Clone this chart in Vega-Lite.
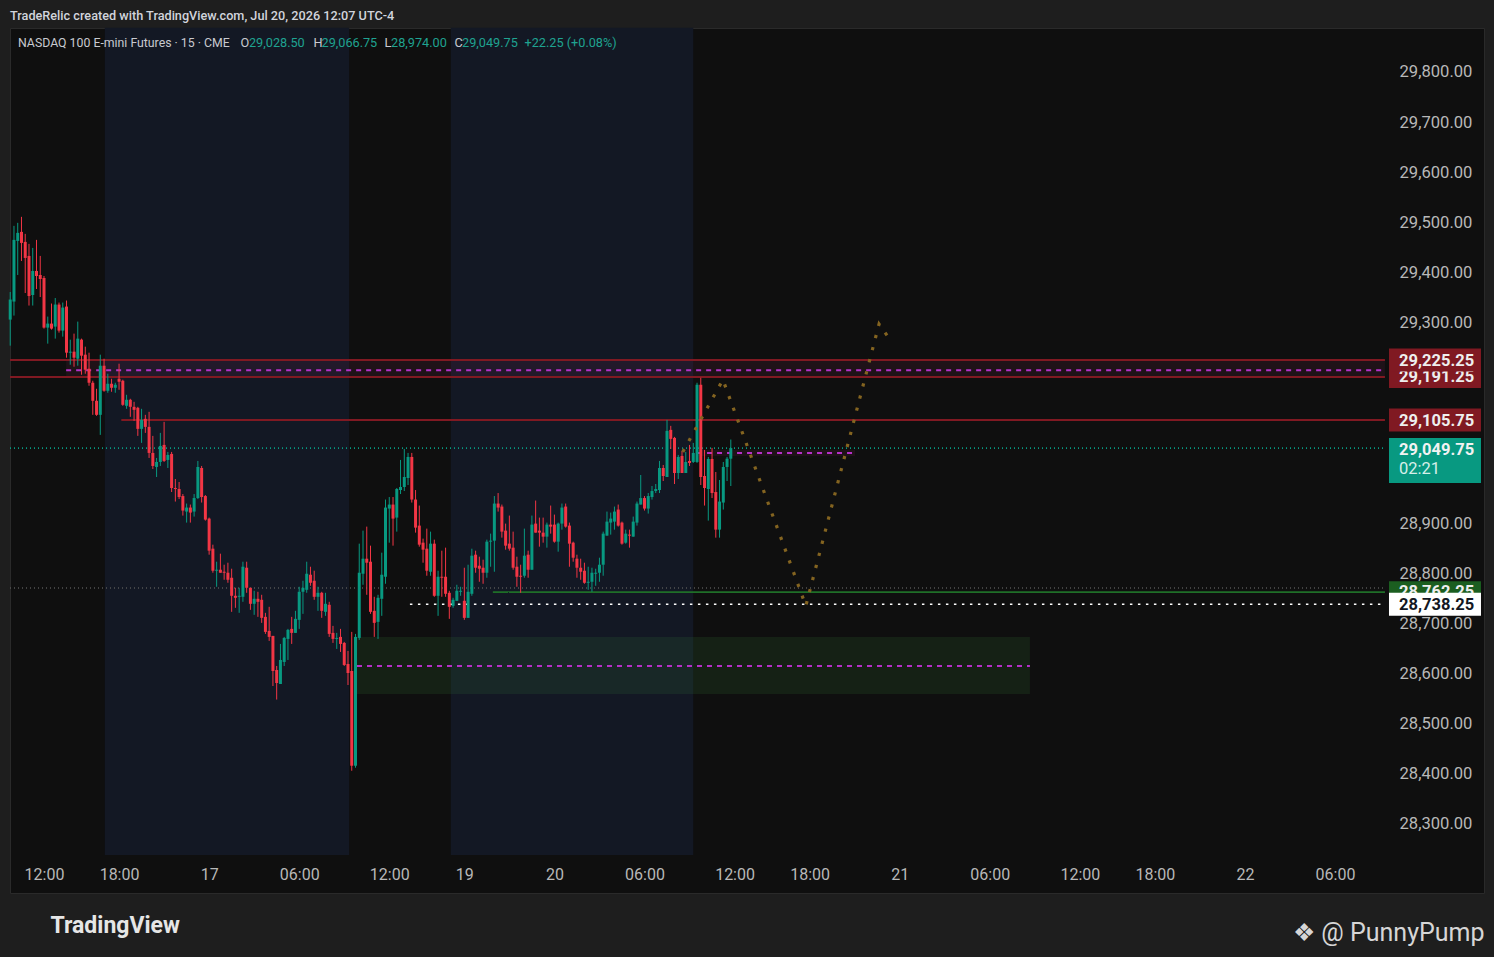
{
  "$schema": "https://vega.github.io/schema/vega-lite/v6.json",
  "width": 1474,
  "height": 865,
  "autosize": {"type": "none"},
  "padding": {"left": 10, "top": 28, "right": 10, "bottom": 64},
  "background": "#1e1e1e",
  "title": {
    "text": "TradeRelic created with TradingView.com, Jul 20, 2026 12:07 UTC-4",
    "anchor": "start",
    "frame": "group",
    "offset": 5,
    "font": "Roboto",
    "fontSize": 12.7,
    "fontWeight": 500,
    "color": "#d1d4dc"
  },
  "data": {"values": [{}]},
  "datasets": {
    "bands": [
      {"a": 16.2, "b": 81.3},
      {"a": 108.4, "b": 173.0}
    ],
    "zones": [
      {"a": 5.9, "b": 357.3, "p1": 29191.25, "p2": 29225.25, "k": "r"},
      {"a": 174, "b": 216.1, "p1": 29034, "p2": 29046, "k": "r"},
      {"a": 83.4, "b": 262.7, "p1": 28559, "p2": 28673, "k": "g"}
    ],
    "hlines": [
      {"k": "red", "p": 29225.25, "a": -9.06, "b": 357.3},
      {"k": "red", "p": 29191.25, "a": -9.06, "b": 357.3},
      {"k": "red", "p": 29105.75, "a": 20.6, "b": 357.3},
      {"k": "mag", "p": 29205, "a": 5.9, "b": 357.3},
      {"k": "teal", "p": 29049.75, "a": -9.06, "b": 357.3},
      {"k": "gray", "p": 28770.5, "a": -9.06, "b": 357.3},
      {"k": "green", "p": 28762.25, "a": 119.6, "b": 357.3},
      {"k": "white", "p": 28738.25, "a": 97.5, "b": 357.3},
      {"k": "mag", "p": 28615, "a": 83.4, "b": 262.7},
      {"k": "mag", "p": 29040, "a": 174, "b": 216.1}
    ],
    "proj": [
      {"i": 170.2, "p": 29042},
      {"i": 180.9, "p": 29186},
      {"i": 203.0, "p": 28735},
      {"i": 222.5, "p": 29297},
      {"i": 225.8, "p": 29262}
    ],
    "tags": [
      {"z": 1, "k": "r", "p": 29191.25, "t": "29,191.25"},
      {"z": 1, "k": "g", "p": 28762.25, "t": "28,762.25"},
      {"z": 2, "k": "r", "p": 29225.25, "t": "29,225.25"},
      {"z": 2, "k": "r", "p": 29105.75, "t": "29,105.75"},
      {"z": 2, "k": "w", "p": 28738.25, "t": "28,738.25"}
    ],
    "candles": [
      {"i": -9, "o": 29306, "h": 29361, "l": 29254, "c": 29346},
      {"i": -8, "o": 29342, "h": 29493, "l": 29314, "c": 29465},
      {"i": -7, "o": 29463, "h": 29499, "l": 29395, "c": 29479},
      {"i": -6, "o": 29481, "h": 29511, "l": 29423, "c": 29459},
      {"i": -5, "o": 29461, "h": 29477, "l": 29359, "c": 29429},
      {"i": -4, "o": 29433, "h": 29457, "l": 29334, "c": 29353},
      {"i": -3, "o": 29355, "h": 29449, "l": 29334, "c": 29403},
      {"i": -2, "o": 29403, "h": 29465, "l": 29367, "c": 29393},
      {"i": -1, "o": 29395, "h": 29433, "l": 29351, "c": 29387},
      {"i": 0, "o": 29389, "h": 29393, "l": 29288, "c": 29290},
      {"i": 1, "o": 29290, "h": 29312, "l": 29258, "c": 29298},
      {"i": 2, "o": 29298, "h": 29338, "l": 29286, "c": 29288},
      {"i": 3, "o": 29292, "h": 29349, "l": 29268, "c": 29336},
      {"i": 4, "o": 29336, "h": 29340, "l": 29280, "c": 29284},
      {"i": 5, "o": 29284, "h": 29340, "l": 29272, "c": 29330},
      {"i": 6, "o": 29332, "h": 29344, "l": 29230, "c": 29240},
      {"i": 7, "o": 29240, "h": 29266, "l": 29216, "c": 29242},
      {"i": 8, "o": 29242, "h": 29278, "l": 29212, "c": 29230},
      {"i": 9, "o": 29228, "h": 29302, "l": 29214, "c": 29268},
      {"i": 10, "o": 29266, "h": 29268, "l": 29196, "c": 29234},
      {"i": 11, "o": 29236, "h": 29252, "l": 29198, "c": 29206},
      {"i": 12, "o": 29208, "h": 29240, "l": 29174, "c": 29180},
      {"i": 13, "o": 29180, "h": 29184, "l": 29116, "c": 29144},
      {"i": 14, "o": 29144, "h": 29168, "l": 29114, "c": 29116},
      {"i": 15, "o": 29116, "h": 29236, "l": 29076, "c": 29214},
      {"i": 16, "o": 29214, "h": 29228, "l": 29162, "c": 29164},
      {"i": 17, "o": 29164, "h": 29198, "l": 29160, "c": 29178},
      {"i": 18, "o": 29178, "h": 29188, "l": 29162, "c": 29170},
      {"i": 19, "o": 29170, "h": 29180, "l": 29160, "c": 29176},
      {"i": 20, "o": 29188, "h": 29218, "l": 29166, "c": 29182},
      {"i": 21, "o": 29184, "h": 29186, "l": 29134, "c": 29136},
      {"i": 22, "o": 29134, "h": 29156, "l": 29128, "c": 29146},
      {"i": 23, "o": 29146, "h": 29148, "l": 29112, "c": 29132},
      {"i": 24, "o": 29132, "h": 29142, "l": 29104, "c": 29126},
      {"i": 25, "o": 29130, "h": 29132, "l": 29074, "c": 29088},
      {"i": 26, "o": 29088, "h": 29128, "l": 29060, "c": 29106},
      {"i": 27, "o": 29108, "h": 29116, "l": 29080, "c": 29092},
      {"i": 28, "o": 29092, "h": 29122, "l": 29030, "c": 29040},
      {"i": 29, "o": 29040, "h": 29074, "l": 29008, "c": 29014},
      {"i": 30, "o": 29012, "h": 29030, "l": 28992, "c": 29022},
      {"i": 31, "o": 29022, "h": 29080, "l": 29014, "c": 29054},
      {"i": 32, "o": 29056, "h": 29102, "l": 29022, "c": 29024},
      {"i": 33, "o": 29026, "h": 29042, "l": 29010, "c": 29036},
      {"i": 34, "o": 29038, "h": 29042, "l": 28962, "c": 28970},
      {"i": 35, "o": 28970, "h": 28988, "l": 28943, "c": 28968},
      {"i": 36, "o": 28968, "h": 28982, "l": 28948, "c": 28952},
      {"i": 37, "o": 28954, "h": 28958, "l": 28915, "c": 28925},
      {"i": 38, "o": 28923, "h": 28939, "l": 28901, "c": 28931},
      {"i": 39, "o": 28931, "h": 28937, "l": 28901, "c": 28921},
      {"i": 40, "o": 28923, "h": 28958, "l": 28913, "c": 28950},
      {"i": 41, "o": 28950, "h": 29024, "l": 28948, "c": 29012},
      {"i": 42, "o": 29010, "h": 29014, "l": 28941, "c": 28952},
      {"i": 43, "o": 28954, "h": 28956, "l": 28905, "c": 28907},
      {"i": 44, "o": 28909, "h": 28911, "l": 28837, "c": 28845},
      {"i": 45, "o": 28849, "h": 28857, "l": 28801, "c": 28805},
      {"i": 46, "o": 28805, "h": 28823, "l": 28773, "c": 28807},
      {"i": 47, "o": 28807, "h": 28839, "l": 28801, "c": 28801},
      {"i": 48, "o": 28803, "h": 28817, "l": 28787, "c": 28801},
      {"i": 49, "o": 28801, "h": 28821, "l": 28781, "c": 28787},
      {"i": 50, "o": 28791, "h": 28809, "l": 28723, "c": 28755},
      {"i": 51, "o": 28755, "h": 28771, "l": 28731, "c": 28751},
      {"i": 52, "o": 28753, "h": 28771, "l": 28721, "c": 28755},
      {"i": 53, "o": 28753, "h": 28823, "l": 28743, "c": 28813},
      {"i": 54, "o": 28811, "h": 28823, "l": 28761, "c": 28771},
      {"i": 55, "o": 28771, "h": 28771, "l": 28727, "c": 28739},
      {"i": 56, "o": 28739, "h": 28765, "l": 28717, "c": 28749},
      {"i": 57, "o": 28749, "h": 28763, "l": 28713, "c": 28743},
      {"i": 58, "o": 28747, "h": 28757, "l": 28701, "c": 28711},
      {"i": 59, "o": 28713, "h": 28721, "l": 28679, "c": 28683},
      {"i": 60, "o": 28685, "h": 28733, "l": 28665, "c": 28673},
      {"i": 61, "o": 28675, "h": 28675, "l": 28575, "c": 28605},
      {"i": 62, "o": 28607, "h": 28615, "l": 28548, "c": 28581},
      {"i": 63, "o": 28579, "h": 28659, "l": 28579, "c": 28627},
      {"i": 64, "o": 28623, "h": 28673, "l": 28615, "c": 28671},
      {"i": 65, "o": 28669, "h": 28689, "l": 28627, "c": 28687},
      {"i": 66, "o": 28689, "h": 28713, "l": 28659, "c": 28681},
      {"i": 67, "o": 28681, "h": 28725, "l": 28681, "c": 28709},
      {"i": 68, "o": 28707, "h": 28773, "l": 28689, "c": 28763},
      {"i": 69, "o": 28763, "h": 28785, "l": 28719, "c": 28771},
      {"i": 70, "o": 28767, "h": 28823, "l": 28761, "c": 28799},
      {"i": 71, "o": 28797, "h": 28813, "l": 28775, "c": 28781},
      {"i": 72, "o": 28785, "h": 28805, "l": 28747, "c": 28753},
      {"i": 73, "o": 28753, "h": 28773, "l": 28725, "c": 28761},
      {"i": 74, "o": 28761, "h": 28763, "l": 28711, "c": 28725},
      {"i": 75, "o": 28723, "h": 28761, "l": 28715, "c": 28739},
      {"i": 76, "o": 28737, "h": 28743, "l": 28673, "c": 28679},
      {"i": 77, "o": 28681, "h": 28695, "l": 28661, "c": 28669},
      {"i": 78, "o": 28669, "h": 28681, "l": 28649, "c": 28671},
      {"i": 79, "o": 28673, "h": 28689, "l": 28643, "c": 28659},
      {"i": 80, "o": 28661, "h": 28663, "l": 28615, "c": 28617},
      {"i": 81, "o": 28619, "h": 28645, "l": 28577, "c": 28601},
      {"i": 82, "o": 28605, "h": 28683, "l": 28406, "c": 28416},
      {"i": 83, "o": 28416, "h": 28679, "l": 28412, "c": 28673},
      {"i": 84, "o": 28671, "h": 28859, "l": 28667, "c": 28801},
      {"i": 85, "o": 28799, "h": 28885, "l": 28777, "c": 28829},
      {"i": 86, "o": 28829, "h": 28893, "l": 28757, "c": 28821},
      {"i": 87, "o": 28823, "h": 28855, "l": 28719, "c": 28723},
      {"i": 88, "o": 28725, "h": 28753, "l": 28673, "c": 28701},
      {"i": 89, "o": 28703, "h": 28757, "l": 28669, "c": 28751},
      {"i": 90, "o": 28749, "h": 28841, "l": 28715, "c": 28797},
      {"i": 91, "o": 28793, "h": 28947, "l": 28779, "c": 28931},
      {"i": 92, "o": 28929, "h": 28952, "l": 28861, "c": 28937},
      {"i": 93, "o": 28937, "h": 28952, "l": 28855, "c": 28909},
      {"i": 94, "o": 28911, "h": 28970, "l": 28883, "c": 28968},
      {"i": 95, "o": 28966, "h": 29026, "l": 28958, "c": 28972},
      {"i": 96, "o": 28972, "h": 29048, "l": 28964, "c": 28992},
      {"i": 97, "o": 28990, "h": 29040, "l": 28976, "c": 29032},
      {"i": 98, "o": 29032, "h": 29040, "l": 28941, "c": 28947},
      {"i": 99, "o": 28947, "h": 28966, "l": 28881, "c": 28891},
      {"i": 100, "o": 28895, "h": 28935, "l": 28853, "c": 28857},
      {"i": 101, "o": 28861, "h": 28869, "l": 28821, "c": 28847},
      {"i": 102, "o": 28849, "h": 28889, "l": 28795, "c": 28805},
      {"i": 103, "o": 28803, "h": 28883, "l": 28795, "c": 28859},
      {"i": 104, "o": 28859, "h": 28867, "l": 28753, "c": 28755},
      {"i": 105, "o": 28755, "h": 28805, "l": 28715, "c": 28793},
      {"i": 106, "o": 28793, "h": 28845, "l": 28753, "c": 28791},
      {"i": 107, "o": 28793, "h": 28851, "l": 28753, "c": 28759},
      {"i": 108, "o": 28761, "h": 28765, "l": 28709, "c": 28733},
      {"i": 109, "o": 28735, "h": 28751, "l": 28731, "c": 28747},
      {"i": 110, "o": 28745, "h": 28777, "l": 28745, "c": 28765},
      {"i": 111, "o": 28763, "h": 28773, "l": 28755, "c": 28765},
      {"i": 112, "o": 28745, "h": 28811, "l": 28707, "c": 28711},
      {"i": 113, "o": 28711, "h": 28817, "l": 28711, "c": 28763},
      {"i": 114, "o": 28759, "h": 28849, "l": 28755, "c": 28835},
      {"i": 115, "o": 28837, "h": 28845, "l": 28801, "c": 28811},
      {"i": 116, "o": 28815, "h": 28833, "l": 28783, "c": 28809},
      {"i": 117, "o": 28811, "h": 28827, "l": 28779, "c": 28801},
      {"i": 118, "o": 28801, "h": 28867, "l": 28791, "c": 28863},
      {"i": 119, "o": 28863, "h": 28879, "l": 28813, "c": 28865},
      {"i": 120, "o": 28865, "h": 28954, "l": 28803, "c": 28939},
      {"i": 121, "o": 28939, "h": 28960, "l": 28923, "c": 28931},
      {"i": 122, "o": 28933, "h": 28937, "l": 28871, "c": 28883},
      {"i": 123, "o": 28885, "h": 28899, "l": 28847, "c": 28855},
      {"i": 124, "o": 28859, "h": 28915, "l": 28845, "c": 28849},
      {"i": 125, "o": 28851, "h": 28883, "l": 28807, "c": 28811},
      {"i": 126, "o": 28813, "h": 28833, "l": 28773, "c": 28793},
      {"i": 127, "o": 28795, "h": 28817, "l": 28761, "c": 28793},
      {"i": 128, "o": 28795, "h": 28889, "l": 28791, "c": 28835},
      {"i": 129, "o": 28837, "h": 28845, "l": 28791, "c": 28807},
      {"i": 130, "o": 28807, "h": 28915, "l": 28807, "c": 28897},
      {"i": 131, "o": 28899, "h": 28945, "l": 28881, "c": 28881},
      {"i": 132, "o": 28885, "h": 28911, "l": 28853, "c": 28881},
      {"i": 133, "o": 28881, "h": 28911, "l": 28861, "c": 28873},
      {"i": 134, "o": 28873, "h": 28901, "l": 28851, "c": 28897},
      {"i": 135, "o": 28897, "h": 28935, "l": 28879, "c": 28893},
      {"i": 136, "o": 28897, "h": 28917, "l": 28861, "c": 28863},
      {"i": 137, "o": 28863, "h": 28901, "l": 28843, "c": 28899},
      {"i": 138, "o": 28899, "h": 28939, "l": 28887, "c": 28931},
      {"i": 139, "o": 28933, "h": 28939, "l": 28891, "c": 28893},
      {"i": 140, "o": 28895, "h": 28901, "l": 28813, "c": 28859},
      {"i": 141, "o": 28861, "h": 28863, "l": 28823, "c": 28831},
      {"i": 142, "o": 28829, "h": 28837, "l": 28791, "c": 28811},
      {"i": 143, "o": 28811, "h": 28829, "l": 28787, "c": 28803},
      {"i": 144, "o": 28805, "h": 28821, "l": 28779, "c": 28781},
      {"i": 145, "o": 28781, "h": 28813, "l": 28767, "c": 28783},
      {"i": 146, "o": 28783, "h": 28811, "l": 28763, "c": 28801},
      {"i": 147, "o": 28799, "h": 28809, "l": 28775, "c": 28801},
      {"i": 148, "o": 28801, "h": 28831, "l": 28783, "c": 28817},
      {"i": 149, "o": 28817, "h": 28883, "l": 28795, "c": 28879},
      {"i": 150, "o": 28875, "h": 28923, "l": 28875, "c": 28903},
      {"i": 151, "o": 28901, "h": 28921, "l": 28877, "c": 28909},
      {"i": 152, "o": 28903, "h": 28933, "l": 28887, "c": 28923},
      {"i": 153, "o": 28927, "h": 28937, "l": 28893, "c": 28895},
      {"i": 154, "o": 28901, "h": 28903, "l": 28857, "c": 28859},
      {"i": 155, "o": 28861, "h": 28887, "l": 28859, "c": 28879},
      {"i": 156, "o": 28877, "h": 28887, "l": 28851, "c": 28875},
      {"i": 157, "o": 28873, "h": 28913, "l": 28873, "c": 28903},
      {"i": 158, "o": 28901, "h": 28943, "l": 28895, "c": 28939},
      {"i": 159, "o": 28937, "h": 28996, "l": 28937, "c": 28950},
      {"i": 160, "o": 28950, "h": 28954, "l": 28925, "c": 28929},
      {"i": 161, "o": 28929, "h": 28960, "l": 28919, "c": 28954},
      {"i": 162, "o": 28952, "h": 28974, "l": 28947, "c": 28964},
      {"i": 163, "o": 28964, "h": 28978, "l": 28960, "c": 28968},
      {"i": 164, "o": 28966, "h": 29024, "l": 28960, "c": 29010},
      {"i": 165, "o": 29010, "h": 29016, "l": 28984, "c": 28994},
      {"i": 166, "o": 28992, "h": 29106, "l": 28992, "c": 29084},
      {"i": 167, "o": 29086, "h": 29094, "l": 29048, "c": 29068},
      {"i": 168, "o": 29070, "h": 29072, "l": 28978, "c": 29000},
      {"i": 169, "o": 29000, "h": 29036, "l": 28988, "c": 29032},
      {"i": 170, "o": 29034, "h": 29044, "l": 29000, "c": 29000},
      {"i": 171, "o": 29000, "h": 29042, "l": 29000, "c": 29022},
      {"i": 172, "o": 29024, "h": 29056, "l": 29014, "c": 29020},
      {"i": 173, "o": 29022, "h": 29060, "l": 29020, "c": 29040},
      {"i": 174, "o": 29022, "h": 29180, "l": 29020, "c": 29176},
      {"i": 175, "o": 29176, "h": 29190, "l": 28976, "c": 28992},
      {"i": 176, "o": 28994, "h": 29046, "l": 28935, "c": 28970},
      {"i": 177, "o": 28968, "h": 29032, "l": 28905, "c": 29028},
      {"i": 178, "o": 29028, "h": 29050, "l": 28950, "c": 28960},
      {"i": 179, "o": 28962, "h": 29002, "l": 28871, "c": 28887},
      {"i": 180, "o": 28887, "h": 28986, "l": 28871, "c": 28943},
      {"i": 181, "o": 28941, "h": 29022, "l": 28927, "c": 29012},
      {"i": 182, "o": 29012, "h": 29032, "l": 28984, "c": 29028.5},
      {"i": 183, "o": 29028.5, "h": 29066.75, "l": 28974, "c": 29049.75}
    ]
  },
  "layer": [
    {
      "data": {"name": "bands"},
      "mark": {"type": "rect", "color": "#131824"},
      "encoding": {
        "x": {
          "field": "a", "type": "quantitative",
          "scale": {"domain": [-9.059, 383.69], "nice": false, "zero": false, "padding": 0},
          "axis": {
            "orient": "bottom", "offset": -38,
            "values": [0, 20, 44, 68, 92, 112, 136, 160, 184, 204, 228, 252, 276, 296, 320, 344],
            "labelExpr": "['12:00','18:00','17','06:00','12:00','19','20','06:00','12:00','18:00','21','06:00','12:00','18:00','22','06:00'][indexof([0,20,44,68,92,112,136,160,184,204,228,252,276,296,320,344], datum.value)]",
            "labelPadding": 19, "labelBaseline": "middle",
            "title": "❖ @ PunnyPump",
            "titleX": 1474, "titleY": 77, "titleAlign": "right", "titleBaseline": "middle",
            "titleFontSize": 25, "titleFontWeight": "normal", "titleColor": "#d6d6d6"
          }
        },
        "x2": {"field": "b"},
        "y": {
          "datum": 28238, "type": "quantitative",
          "scale": {"domain": [28162.1, 29887.7], "nice": false, "zero": false, "padding": 0},
          "axis": {
            "orient": "right", "offset": -99,
            "values": [28300, 28400, 28500, 28600, 28700, 28800, 28900, 29000, 29100, 29200, 29300, 29400, 29500, 29600, 29700, 29800],
            "labelExpr": "format(datum.value, ',.2f')",
            "labelAlign": "left", "labelBaseline": "middle", "labelPadding": 14, "labelFontSize": 16.6,
            "title": "TradingView",
            "titleAngle": 0, "titleX": -1335, "titleY": 897, "titleAlign": "left", "titleBaseline": "middle",
            "titleFontSize": 23, "titleFontWeight": "bold", "titleColor": "#e6e6e6"
          }
        },
        "y2": {"datum": 29888}
      }
    },
    {
      "data": {"name": "zones"},
      "mark": {"type": "rect", "opacity": 0.13},
      "encoding": {
        "x": {"field": "a", "type": "quantitative"},
        "x2": {"field": "b"},
        "y": {"field": "p1", "type": "quantitative"},
        "y2": {"field": "p2"},
        "color": {"condition": {"test": "datum.k == 'g'", "value": "#3a9a40"}, "value": "#8e2a55"}
      }
    },
    {
      "data": {"name": "hlines"},
      "mark": {"type": "rule"},
      "encoding": {
        "x": {"field": "a", "type": "quantitative"},
        "x2": {"field": "b"},
        "y": {"field": "p", "type": "quantitative"},
        "color": {
          "field": "k", "type": "nominal", "legend": null,
          "scale": {"domain": ["red", "mag", "teal", "gray", "green", "white"], "range": ["#801922", "#b530c8", "#089981", "#555555", "#1f6f28", "#ffffff"]}
        },
        "strokeDash": {
          "field": "k", "type": "nominal", "legend": null,
          "scale": {"domain": ["red", "mag", "teal", "gray", "green", "white"], "range": [[1, 0], [5, 5], [1, 3], [1, 3], [1, 0], [2.5, 5.5]]}
        },
        "strokeWidth": {
          "field": "k", "type": "nominal", "legend": null,
          "scale": {"domain": ["red", "mag", "teal", "gray", "green", "white"], "range": [2, 1.5, 1, 1, 2, 2.5]}
        }
      }
    },
    {
      "data": {"name": "candles"},
      "mark": {"type": "rule", "strokeWidth": 1},
      "encoding": {
        "x": {"field": "i", "type": "quantitative"},
        "y": {"field": "l", "type": "quantitative"},
        "y2": {"field": "h"},
        "color": {"condition": {"test": "datum.c >= datum.o", "value": "#089981"}, "value": "#f23645"}
      }
    },
    {
      "data": {"name": "candles"},
      "mark": {"type": "bar", "size": 3, "opacity": 1},
      "encoding": {
        "x": {"field": "i", "type": "quantitative"},
        "y": {"field": "o", "type": "quantitative"},
        "y2": {"field": "c"},
        "color": {"condition": {"test": "datum.c >= datum.o", "value": "#089981"}, "value": "#f23645"}
      }
    },
    {
      "data": {"name": "proj"},
      "mark": {"type": "line", "color": "#846420", "strokeWidth": 3.2, "strokeDash": [3.2, 9.3], "strokeCap": "butt"},
      "encoding": {
        "x": {"field": "i", "type": "quantitative"},
        "y": {"field": "p", "type": "quantitative"}
      }
    },
    {
      "data": {"name": "tags"},
      "transform": [{"filter": "datum.z == 1"}],
      "layer": [
        {
          "mark": {"type": "tick", "orient": "horizontal", "size": 92, "thickness": 22, "opacity": 1},
          "encoding": {
            "x": {"datum": 370.63},
            "y": {"field": "p", "type": "quantitative"},
            "color": {"condition": [{"test": "datum.k == 'g'", "value": "#1b5e20"}, {"test": "datum.k == 'w'", "value": "#ffffff"}], "value": "#801922"}
          }
        },
        {
          "mark": {"type": "text", "align": "left", "baseline": "middle", "font": "Roboto", "fontSize": 16.5, "fontWeight": "bold", "yOffset": 0},
          "encoding": {
            "x": {"datum": 361.05},
            "y": {"field": "p", "type": "quantitative"},
            "text": {"field": "t"},
            "color": {"condition": {"test": "datum.k == 'w'", "value": "#131722"}, "value": "#eeeeee"}
          }
        }
      ]
    },
    {
      "data": {"name": "tags"},
      "transform": [{"filter": "datum.z == 2"}],
      "layer": [
        {
          "mark": {"type": "tick", "orient": "horizontal", "size": 92, "thickness": 23, "opacity": 1},
          "encoding": {
            "x": {"datum": 370.63},
            "y": {"field": "p", "type": "quantitative"},
            "color": {"condition": [{"test": "datum.k == 'g'", "value": "#1b5e20"}, {"test": "datum.k == 'w'", "value": "#ffffff"}], "value": "#801922"}
          }
        },
        {
          "mark": {"type": "text", "align": "left", "baseline": "middle", "font": "Roboto", "fontSize": 16.5, "fontWeight": "bold", "yOffset": 1},
          "encoding": {
            "x": {"datum": 361.05},
            "y": {"field": "p", "type": "quantitative"},
            "text": {"field": "t"},
            "color": {"condition": {"test": "datum.k == 'w'", "value": "#131722"}, "value": "#eeeeee"}
          }
        }
      ]
    },
    {
      "mark": {"type": "tick", "orient": "horizontal", "size": 92, "thickness": 45, "opacity": 1, "color": "#089981", "yOffset": 12.5},
      "encoding": {
        "x": {"datum": 370.63},
        "y": {"datum": 29049.75}
      }
    },
    {
      "mark": {"type": "text", "text": "29,049.75", "align": "left", "baseline": "middle", "font": "Roboto", "fontSize": 16.5, "fontWeight": "bold", "color": "#f2f2f2", "yOffset": 2},
      "encoding": {
        "x": {"datum": 361.05},
        "y": {"datum": 29049.75}
      }
    },
    {
      "mark": {"type": "text", "text": "02:21", "align": "left", "baseline": "middle", "font": "Roboto", "fontSize": 16.5, "color": "#d6efe9", "yOffset": 21},
      "encoding": {
        "x": {"datum": 361.05},
        "y": {"datum": 29049.75}
      }
    },
    {
      "mark": {"type": "text", "text": "NASDAQ 100 E-mini Futures · 15 · CME", "align": "left", "baseline": "middle", "font": "Roboto", "fontSize": 12.3, "color": "#c8cad0"},
      "encoding": {"x": {"datum": -6.93}, "y": {"datum": 29857.8}}
    },
    {
      "mark": {"type": "text", "text": "O", "align": "left", "baseline": "middle", "font": "Roboto", "fontSize": 12.7, "color": "#c8cad0"},
      "encoding": {"x": {"datum": 52.36}, "y": {"datum": 29857.8}}
    },
    {
      "mark": {"type": "text", "text": "29,028.50", "align": "left", "baseline": "middle", "font": "Roboto", "fontSize": 12.7, "color": "#1fa391"},
      "encoding": {"x": {"datum": 54.62}, "y": {"datum": 29857.8}}
    },
    {
      "mark": {"type": "text", "text": "H", "align": "left", "baseline": "middle", "font": "Roboto", "fontSize": 12.7, "color": "#c8cad0"},
      "encoding": {"x": {"datum": 71.81}, "y": {"datum": 29857.8}}
    },
    {
      "mark": {"type": "text", "text": "29,066.75", "align": "left", "baseline": "middle", "font": "Roboto", "fontSize": 12.7, "color": "#1fa391"},
      "encoding": {"x": {"datum": 73.94}, "y": {"datum": 29857.8}}
    },
    {
      "mark": {"type": "text", "text": "L", "align": "left", "baseline": "middle", "font": "Roboto", "fontSize": 12.7, "color": "#c8cad0"},
      "encoding": {"x": {"datum": 90.73}, "y": {"datum": 29857.8}}
    },
    {
      "mark": {"type": "text", "text": "28,974.00", "align": "left", "baseline": "middle", "font": "Roboto", "fontSize": 12.7, "color": "#1fa391"},
      "encoding": {"x": {"datum": 92.46}, "y": {"datum": 29857.8}}
    },
    {
      "mark": {"type": "text", "text": "C", "align": "left", "baseline": "middle", "font": "Roboto", "fontSize": 12.7, "color": "#c8cad0"},
      "encoding": {"x": {"datum": 109.38}, "y": {"datum": 29857.8}}
    },
    {
      "mark": {"type": "text", "text": "29,049.75", "align": "left", "baseline": "middle", "font": "Roboto", "fontSize": 12.7, "color": "#1fa391"},
      "encoding": {"x": {"datum": 111.38}, "y": {"datum": 29857.8}}
    },
    {
      "mark": {"type": "text", "text": "+22.25 (+0.08%)", "align": "left", "baseline": "middle", "font": "Roboto", "fontSize": 12.7, "color": "#1fa391"},
      "encoding": {"x": {"datum": 128.03}, "y": {"datum": 29857.8}}
    }
  ],
  "config": {
    "font": "Roboto",
    "view": {"fill": "#0f0f0f", "stroke": "#2a2a2a", "strokeWidth": 1},
    "axis": {
      "grid": false, "ticks": false, "tickSize": 0, "domain": false,
      "labelFont": "Roboto", "labelFontSize": 16, "labelColor": "#b8b8b8",
      "labelOverlap": false, "labelFlush": false,
      "titleFont": "Roboto"
    }
  }
}
